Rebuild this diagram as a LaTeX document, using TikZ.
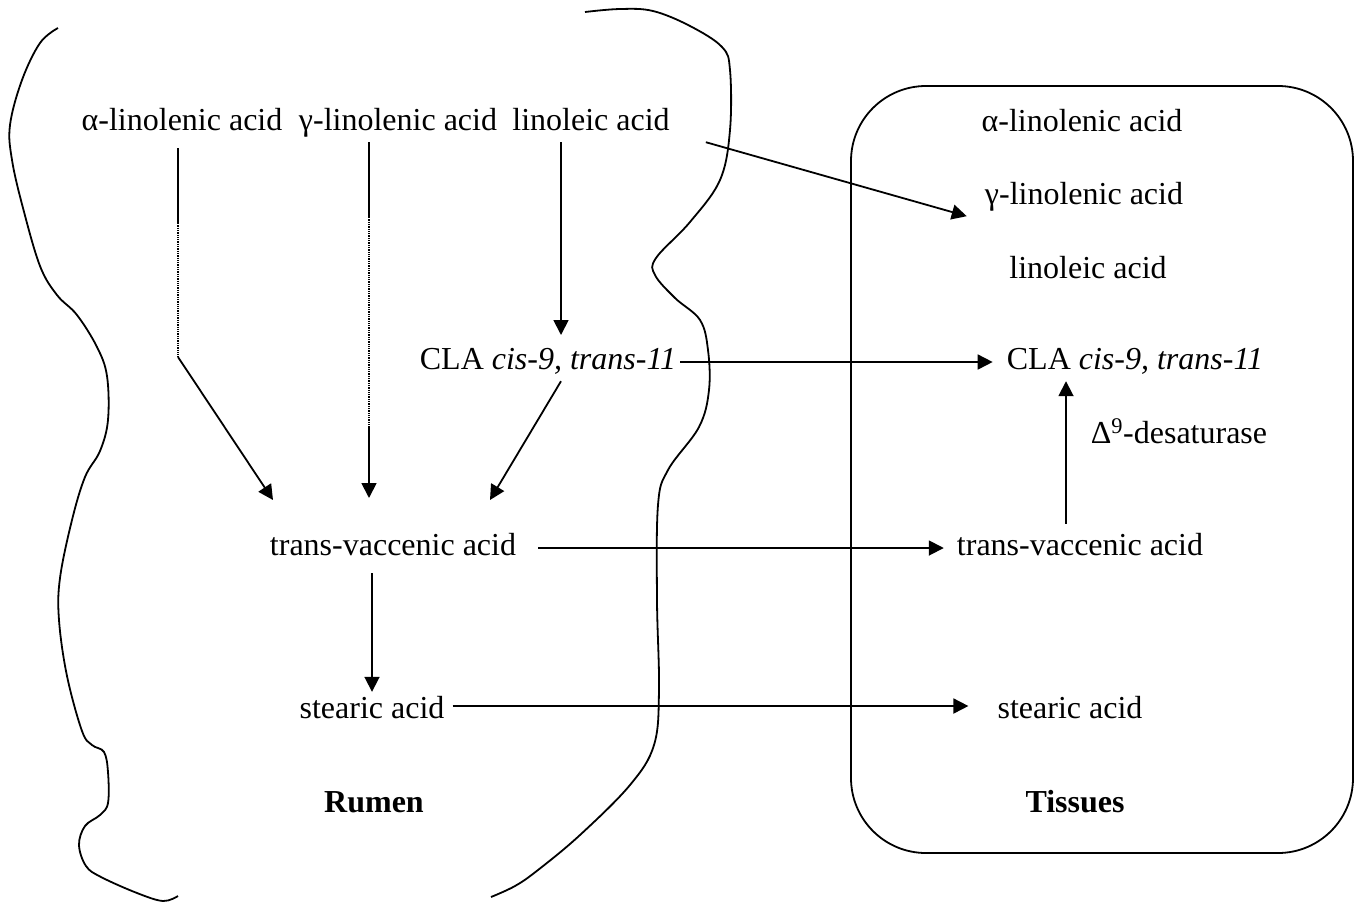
\documentclass[tikz,border=0pt]{standalone}
\usepackage{fontspec}
\setmainfont{Liberation Serif}
\usetikzlibrary{arrows.meta}

\begin{document}
\begin{tikzpicture}[x=1pt, y=-1pt,
paths/.style={-{Triangle[length=15pt,width=15pt]}, line width=1.8pt},
plain/.style={line width=1.8pt},
dot/.style={densely dotted, line width=1.3pt},
acid/.style={font=\fontsize{32}{38}\selectfont, inner sep=4pt, text height=22pt, text depth=8pt},
place/.style={acid, font=\fontsize{32}{38}\selectfont\bfseries}
]
\useasboundingbox (0,0) rectangle (1357,903);

%outlines
\draw[plain] plot[smooth, tension=0.6] coordinates {(58,28) (40,43) (22,80) (10,125) (12,160) (23,208) (40,266) (57,295) (77,315) (97,347) (107,376) (108,420) (100,451) (85,477) (72,520) (60,578) (59,620) (67,676) (82,731) (92,745) (104,752) (108,772) (108,803) (100,815) (85,826) (79,845) (86,866) (101,877) (137,893) (163,901) (178,896)};
\draw[plain] plot[smooth, tension=0.6] coordinates {(585,12) (620,9) (653,11) (690,26) (722,47) (730,70) (730,130) (720,180) (690,222) (656,258) (655,275) (675,298) (700,320) (708,350) (709,390) (699,427) (668,470) (658,505) (657,600) (659,690) (654,745) (630,785) (580,835) (538,870) (515,886) (491,897)};
\draw[plain, rounded corners=75pt] (851,86) rectangle (1353,853);

%create nodes
\node[acid] (alinR) at (182,123) {α-linolenic acid};
\node[acid] (glinR) at (398,123) {γ-linolenic acid};
\node[acid] (linR) at (591,123) {linoleic acid};
\node[acid] (claR) at (548,362) {CLA \textit{cis-9, trans-11}};
\node[acid] (tvaR) at (393,548) {trans-vaccenic acid};
\node[acid] (steR) at (372,711) {stearic acid};
\node[place] (rumen) at (374,805) {Rumen};

\node[acid] (alinT) at (1082,124) {α-linolenic acid};
\node[acid] (glinT) at (1084,197) {γ-linolenic acid};
\node[acid] (linT) at (1088,271) {linoleic acid};
\node[acid] (claT) at (1135,362) {CLA \textit{cis-9, trans-11}};
\node[acid] (desat) at (1179,436) {Δ\textsuperscript{9}-desaturase};
\node[acid] (tvaT) at (1080,548) {trans-vaccenic acid};
\node[acid] (steT) at (1070,711) {stearic acid};
\node[place] (tissues) at (1075,805) {Tissues};

\coordinate (a1) at (178,223);
\coordinate (a2) at (178,357);
\coordinate (aE) at (273,500);
\coordinate (g1) at (369,217);
\coordinate (g2) at (369,427);
\coordinate (gE) at (369,498);
\coordinate (lE) at (561,335);
\coordinate (cE) at (490,500);

%draw paths
\draw[plain, shorten <=6pt] (alinR.south -| a1) -- (a1);
\draw[dot] (a1) -- (a2);
\draw[paths] (a2) -- (aE);
\draw[plain] (glinR.south -| g1) -- (g1);
\draw[dot] (g1) -- (g2);
\draw[paths] (g2) -- (gE);
\draw[paths] (linR.south -| lE) -- (lE);
\draw[paths] ([xshift=13pt]claR.south) -- (cE);
\draw[paths, shorten <=6pt] (tvaR.south -| steR.north) -- (steR.north);

\draw[paths] ([xshift=32pt]linR.south east) -- ([xshift=-14pt]glinT.south west);
\draw[paths, shorten >=10pt] (claR.east) -- (claT.west);
\draw[paths, shorten <=18pt, shorten >=9pt] (tvaR.east) -- (tvaT.west);
\draw[paths, shorten <=4pt, shorten >=25pt] ([yshift=5pt]steR.east) -- ([yshift=5pt]steT.west);
\draw[paths, shorten <=5pt] ([xshift=-14pt]tvaT.north) -- ([xshift=-14pt]tvaT.north |- claT.south);

\end{tikzpicture}
\end{document}
